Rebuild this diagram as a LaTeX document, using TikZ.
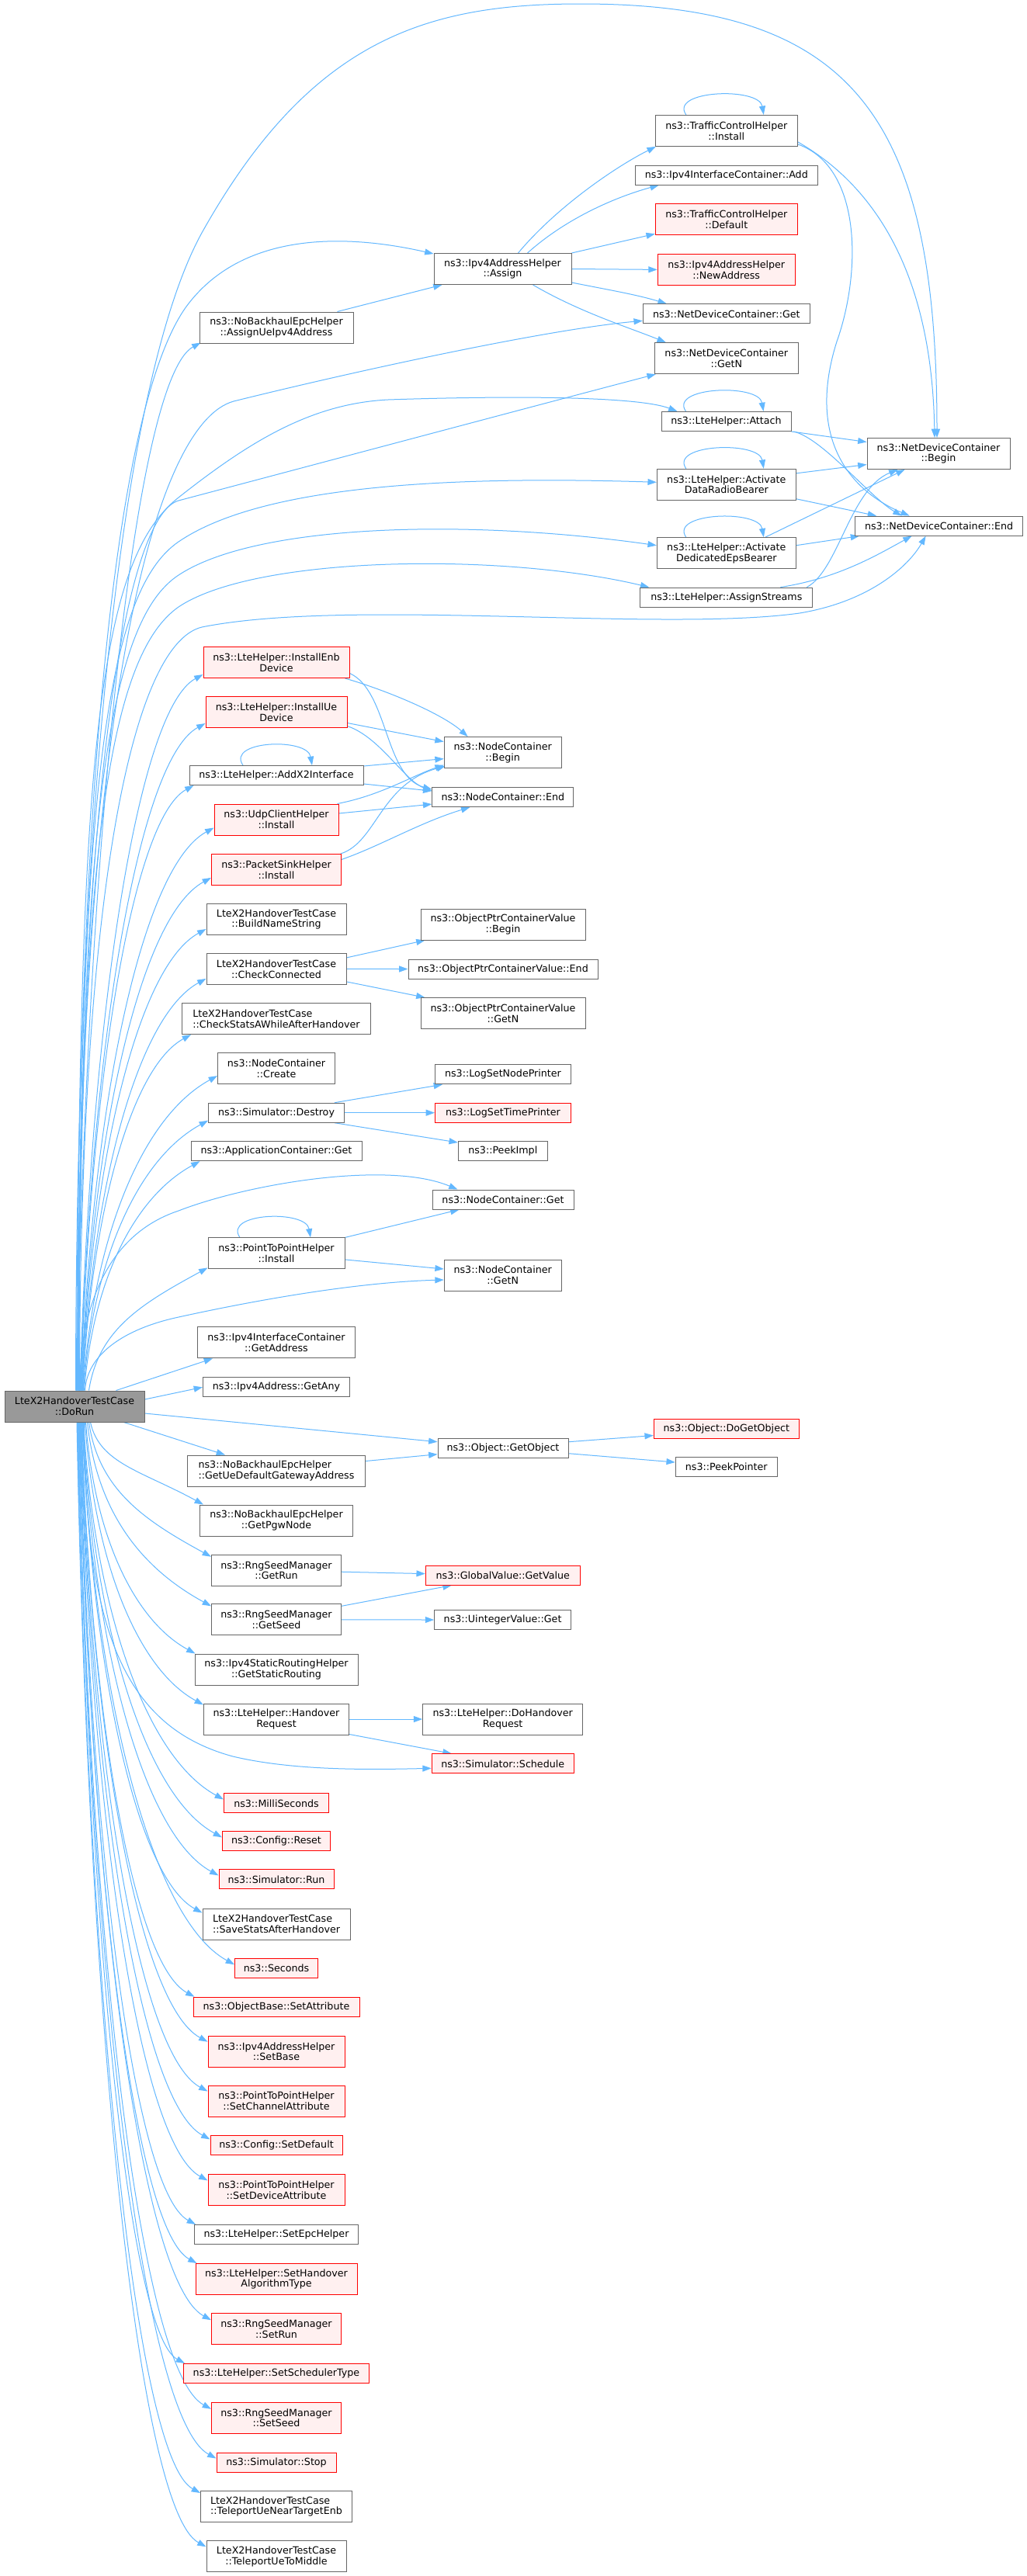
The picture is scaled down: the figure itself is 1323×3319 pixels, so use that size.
\documentclass[tikz,border=0pt]{standalone}
\usepackage{fontspec}
\setmainfont{DejaVu Sans}
\usetikzlibrary{calc,arrows.meta}
\definecolor{edgeblue}{HTML}{63B8FF}
\definecolor{nodegray}{HTML}{666666}
\definecolor{redfill}{HTML}{FFF0F0}
\definecolor{rootfill}{HTML}{999999}
\pgfdeclarelayer{bg}
\pgfdeclarelayer{paper}
\pgfsetlayers{paper,bg,main}
\tikzset{
  box/.style={draw=nodegray, fill=white, line width=0.75pt, inner sep=0pt, align=center, text=black,
    font=\fontsize{9.5}{10.4}\selectfont},
  redbox/.style={box, draw=red, fill=redfill},
  rootbox/.style={box, fill=rootfill},
  one/.style={minimum height=18.75pt},
  two/.style={minimum height=30pt},
  wd/.style={minimum width=#1*0.75pt},
  link/.style={draw=edgeblue, line width=0.75pt, -{Triangle[length=8.5pt,width=6pt]}}
}
\newcommand\rootup[2]{\draw[link] let \p1=($(root.north west)+(#1,0)$), \p2=(#2) in (\p1) .. controls ({\x1+0.08*(\x2-\x1)},{\y1+0.5*(\y2-\y1)}) and ({\x2-0.55*(\x2-\x1)},{\y2-0.3*(\x2-\x1)}) .. (\p2);}
\newcommand\rootdn[2]{\draw[link] let \p1=($(root.south west)+(#1,0)$), \p2=(#2) in (\p1) .. controls ({\x1+0.08*(\x2-\x1)},{\y1+0.5*(\y2-\y1)}) and ({\x2-0.55*(\x2-\x1)},{\y2+0.3*(\x2-\x1)}) .. (\p2);}
\newcommand\selfloop[3]{\draw[link] ($(#1.north)+(#2,0)$) .. controls +(-22,-32) and +(-6,-36) .. ($(#1.north)+(#3,0)$);}
\begin{document}
\begin{tikzpicture}[x=0.75pt,y=-0.75pt]
\begin{pgfonlayer}{paper}
\fill[white] (0,0) rectangle (1323,3319);
\end{pgfonlayer}
\useasboundingbox (0,0) rectangle (1323,3319);
% root
\node[rootbox,two,wd=180] (root) at (96,1812) {LteX2HandoverTestCase\\::DoRun};
% column 2
\node[box,two,wd=198] (aue) at (356,422) {ns3::NoBackhaulEpcHelper\\::AssignUeIpv4Address};
\node[redbox,two,wd=188] (ienb) at (356,853.5) {ns3::LteHelper::InstallEnb\\Device};
\node[redbox,two,wd=182] (iue) at (356,917.5) {ns3::LteHelper::InstallUe\\Device};
\node[box,one,wd=224] (ax2) at (356,999) {ns3::LteHelper::AddX2Interface};
\node[redbox,two,wd=160] (udp) at (356,1056) {ns3::UdpClientHelper\\::Install};
\node[redbox,two,wd=167] (psh) at (356,1120.4) {ns3::PacketSinkHelper\\::Install};
\node[box,two,wd=180] (bns) at (356,1184.5) {LteX2HandoverTestCase\\::BuildNameString};
\node[box,two,wd=180] (chk) at (356,1248.4) {LteX2HandoverTestCase\\::CheckConnected};
\node[box,two,wd=243,align=left] (cst) at (356,1312.6) {LteX2HandoverTestCase\\::CheckStatsAWhileAfterHandover};
\node[box,two,wd=151] (ncc) at (356,1376.6) {ns3::NodeContainer\\::Create};
\node[box,one,wd=175] (sdes) at (356,1433.7) {ns3::Simulator::Destroy};
\node[box,one,wd=220] (acg) at (356,1483.2) {ns3::ApplicationContainer::Get};
\node[box,two,wd=176] (p2pi) at (356,1614.9) {ns3::PointToPointHelper\\::Install};
\node[box,two,wd=203] (gad) at (356,1729.8) {ns3::Ipv4InterfaceContainer\\::GetAddress};
\node[box,one,wd=189] (gany) at (356,1787.3) {ns3::Ipv4Address::GetAny};
\node[box,two,wd=229,align=left] (gdgw) at (356,1895) {ns3::NoBackhaulEpcHelper\\::GetUeDefaultGatewayAddress};
\node[box,two,wd=197] (pgw) at (356,1959) {ns3::NoBackhaulEpcHelper\\::GetPgwNode};
\node[box,two,wd=167] (grun) at (356,2023.2) {ns3::RngSeedManager\\::GetRun};
\node[box,two,wd=167] (gseed) at (356,2086.8) {ns3::RngSeedManager\\::GetSeed};
\node[box,two,wd=210] (gsr) at (356,2151) {ns3::Ipv4StaticRoutingHelper\\::GetStaticRouting};
\node[box,two,wd=187] (hreq) at (356,2215) {ns3::LteHelper::Handover\\Request};
\node[redbox,one,wd=135] (msec) at (356,2323.4) {ns3::MilliSeconds};
\node[redbox,one,wd=139] (crst) at (356,2372.3) {ns3::Config::Reset};
\node[redbox,one,wd=148] (srun) at (356,2421.4) {ns3::Simulator::Run};
\node[box,two,wd=190,align=left] (ssah) at (356,2479) {LteX2HandoverTestCase\\::SaveStatsAfterHandover};
\node[redbox,one,wd=107] (secs) at (356,2536.2) {ns3::Seconds};
\node[redbox,one,wd=214] (sattr) at (356,2585.7) {ns3::ObjectBase::SetAttribute};
\node[redbox,two,wd=176] (sbase) at (356,2643.2) {ns3::Ipv4AddressHelper\\::SetBase};
\node[redbox,two,wd=176] (schan) at (356,2707) {ns3::PointToPointHelper\\::SetChannelAttribute};
\node[redbox,one,wd=170] (sdef) at (356,2764.4) {ns3::Config::SetDefault};
\node[redbox,two,wd=176] (sdev) at (356,2821.9) {ns3::PointToPointHelper\\::SetDeviceAttribute};
\node[box,one,wd=211] (sepc) at (356,2879) {ns3::LteHelper::SetEpcHelper};
\node[redbox,two,wd=208] (sho) at (356,2936.5) {ns3::LteHelper::SetHandover\\AlgorithmType};
\node[redbox,two,wd=167] (srunm) at (356,3000.7) {ns3::RngSeedManager\\::SetRun};
\node[redbox,one,wd=239] (ssch) at (356,3058) {ns3::LteHelper::SetSchedulerType};
\node[redbox,two,wd=167] (sseed) at (356,3115.3) {ns3::RngSeedManager\\::SetSeed};
\node[redbox,one,wd=154] (sstop) at (356,3172.5) {ns3::Simulator::Stop};
\node[box,two,wd=195,align=left] (tpnt) at (356,3229.5) {LteX2HandoverTestCase\\::TeleportUeNearTargetEnb};
\node[box,two,wd=180] (tpm) at (356,3293.8) {LteX2HandoverTestCase\\::TeleportUeToMiddle};
% column 3
\node[box,two,wd=177] (asg) at (647.5,346.5) {ns3::Ipv4AddressHelper\\::Assign};
\node[box,two,wd=151] (ncb) at (647.7,969.6) {ns3::NodeContainer\\::Begin};
\node[box,one,wd=182] (nce) at (647.8,1027.1) {ns3::NodeContainer::End};
\node[box,two,wd=212] (opb) at (648,1191) {ns3::ObjectPtrContainerValue\\::Begin};
\node[box,one,wd=244] (ope) at (648,1248.5) {ns3::ObjectPtrContainerValue::End};
\node[box,two,wd=212] (opn) at (648,1305.7) {ns3::ObjectPtrContainerValue\\::GetN};
\node[box,one,wd=175] (lsnp) at (648,1384.3) {ns3::LogSetNodePrinter};
\node[redbox,one,wd=175] (lstp) at (648,1433.7) {ns3::LogSetTimePrinter};
\node[box,one,wd=115] (pimp) at (647.8,1483) {ns3::PeekImpl};
\node[box,one,wd=182] (ncg) at (648,1545.5) {ns3::NodeContainer::Get};
\node[box,two,wd=151] (ncn) at (647.7,1643) {ns3::NodeContainer\\::GetN};
\node[box,one,wd=168] (gobj) at (648,1865.7) {ns3::Object::GetObject};
\node[redbox,one,wd=199] (gval) at (647.8,2029.6) {ns3::GlobalValue::GetValue};
\node[box,one,wd=176] (uget) at (647.6,2087) {ns3::UintegerValue::Get};
\node[box,two,wd=206] (dhr) at (647.7,2215) {ns3::LteHelper::DoHandover\\Request};
\node[redbox,one,wd=183] (sch) at (647.7,2272.3) {ns3::Simulator::Schedule};
% column 4
\node[box,two,wd=183] (tci) at (935.8,168.4) {ns3::TrafficControlHelper\\::Install};
\node[box,one,wd=235] (iadd) at (935.8,225.6) {ns3::Ipv4InterfaceContainer::Add};
\node[redbox,two,wd=183] (tcd) at (935.8,282.8) {ns3::TrafficControlHelper\\::Default};
\node[redbox,two,wd=177] (naddr) at (935.7,347.4) {ns3::Ipv4AddressHelper\\::NewAddress};
\node[box,one,wd=215] (ndg) at (935.8,404.3) {ns3::NetDeviceContainer::Get};
\node[box,two,wd=185] (ndn) at (935.8,461.6) {ns3::NetDeviceContainer\\::GetN};
\node[box,one,wd=167] (att) at (935.5,543) {ns3::LteHelper::Attach};
\node[box,two,wd=179] (adrb) at (935.8,624.3) {ns3::LteHelper::Activate\\DataRadioBearer};
\node[box,two,wd=179] (adeb) at (935.8,712.7) {ns3::LteHelper::Activate\\DedicatedEpsBearer};
\node[box,one,wd=222] (ast) at (935.8,769.6) {ns3::LteHelper::AssignStreams};
\node[redbox,one,wd=187] (dgo) at (935.8,1840.5) {ns3::Object::DoGetObject};
\node[box,one,wd=131] (ppt) at (935.8,1890) {ns3::PeekPointer};
% column 5
\node[box,two,wd=184] (ndb) at (1209,584.5) {ns3::NetDeviceContainer\\::Begin};
\node[box,one,wd=216] (nde) at (1209.6,677.6) {ns3::NetDeviceContainer::End};

\begin{pgfonlayer}{bg}
% ---- root, upward, long ones
\draw[link] ($(root.north west)+(92,0)$) .. controls (98,1100) and (150,500) .. (260,300) .. controls (400,50) and (550,5) .. (748,5) .. controls (1100,5) and (1207,150) .. ($(ndb.north)+(-2,0)$);
\draw[link] ($(root.north west)+(93,0)$) .. controls (100,1000) and (150,520) .. (240,395) .. controls (310,300) and (440,300) .. ($(asg.north west)+(0,1)$);
\draw[link] ($(root.north west)+(94,0)$) .. controls (100,900) and (200,545) .. (301,517) .. controls (450,480) and (700,425) .. ($(ndg.west)+(0,9)$);
\draw[link] ($(root.north west)+(95,0)$) .. controls (101,950) and (170,662) .. (230,645) .. controls (400,600) and (700,520) .. ($(ndn.south west)+(2,0)$);
\draw[link] ($(root.north west)+(94.5,0)$) .. controls (100,950) and (130,720) .. (230,641) .. controls (320,570) and (400,520) .. (500,515) .. controls (650,510) and (820,510) .. ($(att.north west)+(21,0)$);
\draw[link] ($(root.north west)+(95.5,0)$) .. controls (101,1000) and (140,760) .. (230,698) .. controls (330,630) and (550,612) .. ($(adrb.west)+(0,-3)$);
\draw[link] ($(root.north west)+(96,0)$) .. controls (102,1050) and (140,800) .. (230,741) .. controls (330,675) and (600,668) .. ($(adeb.west)+(0,-10)$);
\draw[link] ($(root.north west)+(96.5,0)$) .. controls (102,1100) and (140,845) .. (230,782) .. controls (330,715) and (650,712) .. ($(ast.north west)+(12,0)$);
\draw[link] ($(root.north west)+(97,0)$) .. controls (103,1150) and (170,830) .. (260,808) .. controls (450,770) and (850,815) .. (1030,790) .. controls (1120,775) and (1170,730) .. ($(nde.south)+(-17,0)$);
\draw[link] ($(root.north west)+(97,0)$) .. controls (103,1680) and (140,1590) .. (230,1560) .. controls (320,1525) and (500,1495) .. ($(ncg.north west)+(33,0)$);
\draw[link] ($(root.north west)+(104,0)$) .. controls (112,1745) and (160,1712) .. (230,1697) .. controls (330,1675) and (460,1652) .. ($(ncn.west)+(0,6)$);
% ---- root, upward to column 2
\rootup{93}{$(aue.south west)+(2,-1)$}
\rootup{97.5}{$(ienb.south west)+(0,-5)$}
\rootup{98}{$(iue.south west)+(0,-6)$}
\rootup{98.5}{$(ax2.south west)+(6,0)$}
\rootup{99}{$(udp.south west)+(0,-10)$}
\rootup{99.5}{$(psh.south west)+(0,-10)$}
\rootup{100}{$(bns.south west)+(0,-8)$}
\rootup{100.5}{$(chk.south west)+(0,-8)$}
\rootup{101}{$(cst.south west)+(12,0)$}
\rootup{101.5}{$(ncc.south west)+(0,-11)$}
\rootup{102}{$(sdes.south west)+(0,-3)$}
\rootup{103}{$(acg.south west)+(12,0)$}
\rootup{109}{$(p2pi.south west)+(0,-2)$}
\draw[link] ($(root.north west)+(144,0)$) -- ($(gad.south west)+(20,0)$);
\draw[link] ($(root.east)+(0,-9)$) -- (gany.west);
\draw[link] ($(root.east)+(0,9)$) -- ($(gobj.west)+(0,-8)$);
% ---- root, downward
\draw[link] ($(root.south west)+(154,0)$) -- ($(gdgw.north west)+(49,0)$);
\rootdn{111}{$(pgw.north west)+(5,0)$}
\rootdn{109}{$(grun.north west)+(0,3)$}
\rootdn{107}{$(gseed.north west)+(0,3)$}
\rootdn{105}{$(gsr.north west)+(1,0)$}
\rootdn{104}{$(hreq.north west)+(0,2)$}
\draw[link] ($(root.south west)+(103,0)$) .. controls (110,2100) and (160,2225) .. (300,2263) .. controls (380,2282) and (480,2280) .. ($(sch.west)+(0,6)$);
\rootdn{102}{$(msec.north west)+(0,8)$}
\rootdn{101.5}{$(crst.north west)+(0,8)$}
\rootdn{101}{$(srun.north west)+(0,8)$}
\rootdn{100.5}{$(ssah.north west)+(0,6)$}
\rootdn{100}{$(secs.north west)+(0,8)$}
\rootdn{99.5}{$(sattr.north west)+(2,0)$}
\rootdn{99}{$(sbase.north west)+(0,8)$}
\rootdn{98.5}{$(schan.north west)+(0,8)$}
\rootdn{98}{$(sdef.north west)+(0,5)$}
\rootdn{97.5}{$(sdev.north west)+(0,8)$}
\rootdn{97}{$(sepc.north west)+(2,0)$}
\rootdn{96.5}{$(sho.north west)+(2,0)$}
\rootdn{96}{$(srunm.north west)+(0,9)$}
\rootdn{95.5}{$(ssch.north west)+(2,0)$}
\rootdn{95}{$(sseed.north west)+(0,9)$}
\rootdn{94.5}{$(sstop.north west)+(0,8)$}
\rootdn{94}{$(tpnt.north west)+(0,3)$}
\rootdn{93.5}{$(tpm.north west)+(0,8)$}
% ---- Assign and its callees
\draw[link] ($(aue.north east)+(-21,0)$) -- ($(asg.south west)+(11,0)$);
\draw[link] ($(asg.north)+(20,0)$) .. controls +(50,-60) and +(-50,25) .. ($(tci.south west)+(1,0)$);
\draw[link] ($(asg.north)+(32,0)$) .. controls +(50,-45) and +(-55,15) .. ($(iadd.south west)+(31,0)$);
\draw[link] (asg.north east) -- ($(tcd.south west)+(0,-2)$);
\draw[link] (asg.east) -- (naddr.west);
\draw[link] ($(asg.south east)+(0,-3)$) .. controls +(50,10) and +(-40,-12) .. ($(ndg.north west)+(31,0)$);
\draw[link] ($(asg.south)+(39,0)$) .. controls +(60,35) and +(-50,-20) .. ($(ndn.north west)+(15,0)$);
% ---- self loops
\selfloop{tci}{-52}{48}
\selfloop{att}{-52}{48}
\selfloop{adrb}{-52}{48}
\selfloop{adeb}{-52}{48}
\selfloop{ax2}{-43}{46}
\selfloop{p2pi}{-47}{44}
% ---- NetDeviceContainer Begin/End
\draw[link] ($(tci.south east)+(0,-6)$) .. controls (1110,230) and (1200,330) .. ($(ndb.north)+(-5,0)$);
\draw[link] ($(tci.south east)+(0,-3)$) .. controls (1110,215) and (1110,350) .. (1078,440) .. controls (1040,560) and (1090,630) .. ($(nde.north)+(-38,0)$);
\draw[link] (att.south east) -- ($(ndb.west)+(0,-15)$);
\draw[link] ($(att.south east)+(3,0)$) .. controls (1060,565) and (1120,640) .. ($(nde.north)+(-48,0)$);
\draw[link] ($(adrb.north east)+(0,6)$) -- ($(ndb.west)+(0,14)$);
\draw[link] ($(adrb.south east)+(0,-2)$) -- ($(nde.north west)+(28,0)$);
\draw[link] ($(adeb.north)+(50,0)$) -- ($(ndb.south west)+(49,0)$);
\draw[link] ($(adeb.east)+(0,-10)$) -- ($(nde.south west)+(6,0)$);
\draw[link] ($(ast.north east)+(-8,0)$) .. controls (1080,735) and (1095,630) .. ($(ndb.south west)+(40,0)$);
\draw[link] ($(ast.north east)+(-42,0)$) .. controls (1080,745) and (1130,715) .. ($(nde.south)+(-35,0)$);
% ---- NodeContainer Begin/End
\draw[link] ($(ienb.south east)+(-6,0)$) .. controls (500,890) and (570,920) .. ($(ncb.north west)+(31,0)$);
\draw[link] ($(ienb.east)+(0,14)$) .. controls (500,890) and (495,1000) .. ($(nce.north west)+(0,3)$);
\draw[link] ($(iue.east)+(0,14)$) -- ($(ncb.west)+(0,-14)$);
\draw[link] ($(iue.east)+(0,18)$) .. controls (490,950) and (520,1005) .. ($(nce.north west)+(0,5)$);
\draw[link] ($(ax2.north east)+(0,1)$) -- ($(ncb.west)+(0,8)$);
\draw[link] ($(ax2.south east)+(0,-2)$) -- ($(nce.west)+(0,-8)$);
\draw[link] ($(udp.north east)+(-2,0)$) .. controls (490,1025) and (530,1000) .. ($(ncb.west)+(0,16)$);
\draw[link] ($(udp.east)+(0,-8)$) -- ($(nce.west)+(0,9)$);
\draw[link] ($(psh.north east)+(-1,0)$) .. controls (485,1085) and (490,1010) .. ($(ncb.south west)+(2,-3)$);
\draw[link] ($(psh.east)+(0,-13)$) .. controls (490,1090) and (540,1060) .. ($(nce.south west)+(49,0)$);
% ---- other calls
\draw[link] ($(chk.north east)+(0,6)$) -- ($(opb.south west)+(6,0)$);
\draw[link] (chk.east) -- (ope.west);
\draw[link] ($(chk.south east)+(0,-4)$) -- ($(opn.north west)+(6,0)$);
\draw[link] ($(sdes.north east)+(-13,0)$) -- ($(lsnp.south west)+(10,0)$);
\draw[link] (sdes.east) -- (lstp.west);
\draw[link] ($(sdes.south east)+(-13,0)$) -- ($(pimp.north west)+(0,2)$);
\draw[link] (p2pi.north east) -- ($(ncg.south west)+(35,0)$);
\draw[link] ($(p2pi.east)+(0,8)$) -- ($(ncn.west)+(0,-8)$);
\draw[link] ($(gobj.east)+(0,-8)$) -- ($(dgo.west)+(0,9)$);
\draw[link] ($(gobj.east)+(0,7)$) -- ($(ppt.west)+(0,-6)$);
\draw[link] ($(gdgw.north east)+(0,8)$) -- ($(gobj.west)+(0,8)$);
\draw[link] ($(grun.east)+(0,2)$) -- ($(gval.west)+(0,-2)$);
\draw[link] ($(gseed.north east)+(0,3)$) -- ($(gval.south west)+(34,0)$);
\draw[link] (gseed.east) -- (uget.west);
\draw[link] (hreq.east) -- (dhr.west);
\draw[link] ($(hreq.south east)+(0,-1)$) -- ($(sch.north west)+(26,0)$);
\end{pgfonlayer}
\end{tikzpicture}
\end{document}
